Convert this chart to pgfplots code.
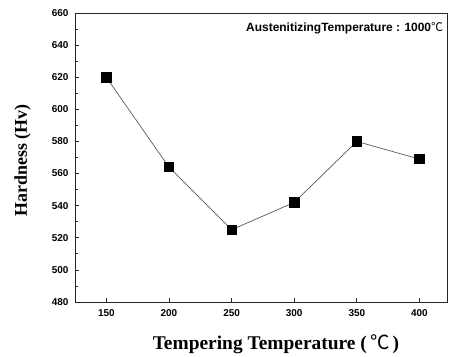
\documentclass[border=0pt]{standalone}
\usepackage{fontspec}
\setmainfont{Liberation Serif}
\setsansfont{Liberation Sans}
\newfontfamily\cjk{Noto Sans CJK SC}
\usepackage{pgfplots}
\pgfplotsset{compat=1.18}
\begin{document}
\begin{tikzpicture}
\begin{axis}[
  scale only axis,
  width=372bp, height=289bp,
  xmin=125, xmax=422,
  ymin=480, ymax=660,
  xtick={150,200,250,300,350,400},
  ytick={480,500,...,660},
  minor y tick num=1,
  xtick pos=bottom, ytick pos=left,
  tick align=inside,
  major tick length=4bp, minor tick length=2.5bp,
  axis line style={line width=0.9pt, black!85},
  tick style={line width=0.7pt, black!85},
  /pgf/number format/assume math mode=true,
  /pgf/number format/1000 sep={},
  ticklabel style={font=\fontsize{10}{12}\selectfont\sffamily\bfseries},
  xticklabel style={yshift=-4bp},
  yticklabel style={xshift=-3bp},
  xlabel={Tempering Temperature (\,{\cjk\mdseries ℃}\,)},
  ylabel={Hardness (Hv)},
  xlabel style={font=\fontsize{19.5}{22}\selectfont\bfseries, at={(rel axis cs:0.5,0)}, anchor=center, xshift=15bp, yshift=-42bp},
  ylabel style={font=\fontsize{18}{21}\selectfont\bfseries, at={(rel axis cs:0,0.5)}, anchor=center, yshift=52.5bp, xshift=-3bp},
  clip=false,
]
\addplot[line width=0.7pt, black!65, mark=square*, mark size=4.7bp, mark options={fill=black, draw=black, solid}]
coordinates {(150,620) (200,564) (250,525) (300,542) (350,580) (400,569)};
\node[anchor=east, font=\fontsize{12}{14}\selectfont\sffamily\bfseries, inner sep=0pt] at (rel axis cs:0.99,0.948) {AustenitizingTemperature : 1000{\cjk\mdseries ℃}};
\end{axis}
\pgfresetboundingbox
\path[use as bounding box] (-75bp,-55bp) rectangle (374bp,302bp);
\end{tikzpicture}
\end{document}
